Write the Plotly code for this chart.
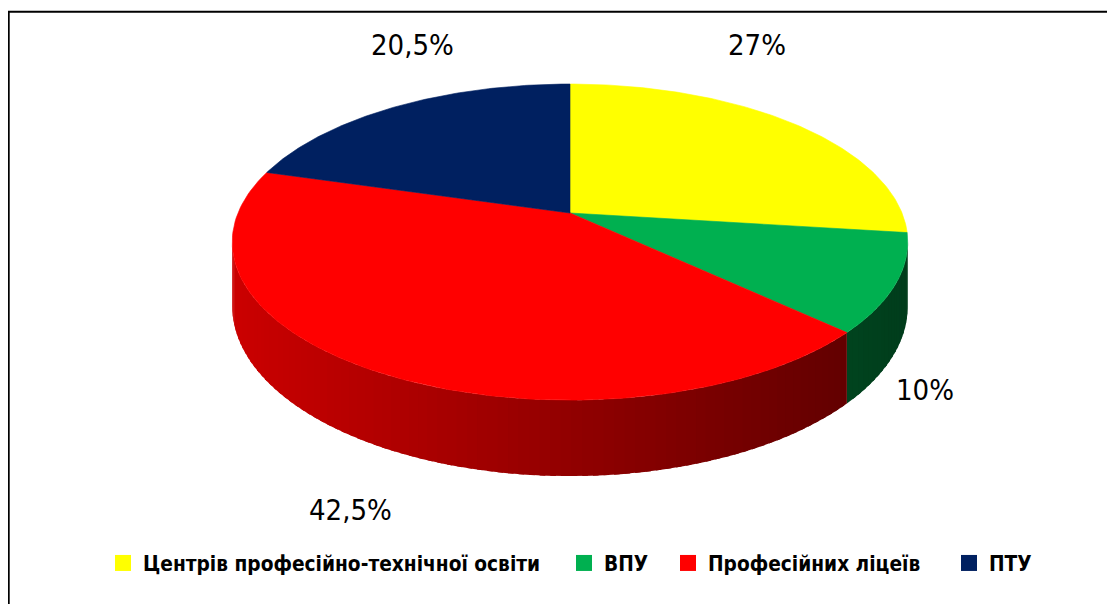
import numpy as np
import plotly.graph_objects as go

# ---- data ----
categories = ["Центрів професійно-технічної освіти", "ВПУ", "Професійних ліцеїв", "ПТУ"]
values = [27, 10, 42.5, 20.5]
value_labels = ["27%", "10%", "42,5%", "20,5%"]

# ---- style ----
colors = ["#ffff00", "#00b050", "#ff0000", "#002060"]
label_pos = [(757, 45), (925, 390), (350, 510), (412, 45)]   # page pixel positions
legend_text_x = [143, 604, 708, 989]                          # page pixel positions
legend_y = 563

# the browser body has an 8px margin: figure covers page pixels 8..1115 x 8..604
OFF = 8
PW, PH = 1115, 604
W, H = PW - OFF, PH - OFF

cx, cy = 570.0, 213.0     # pie centre (page pixels)
A, B = 332.0, 152.7        # horizontal / vertical radius scale
K = 0.184                  # perspective factor
C = 62.0                   # thickness scale

FONT = "Liberation Sans Narrow, Arial Narrow, DejaVu Sans Condensed, sans-serif"


def proj(theta_deg, r=1.0):
    t = np.radians(theta_deg)
    u, v = r * np.cos(t), r * np.sin(t)
    w = 1 + K * v
    return cx + A * u / w, cy - B * v / w, C / w


def hex_rgb(h):
    h = h.lstrip("#")
    return [int(h[i:i + 2], 16) for i in (0, 2, 4)]


def shade(hexcol, f):
    r, g, b = hex_rgb(hexcol)
    return "rgb(%d,%d,%d)" % (r * f, g * f, b * f)


fig = go.Figure()

# slice angles: start at 12 o'clock, go clockwise
total = sum(values)
starts, ends = [], []
a = 90.0
for v in values:
    starts.append(a)
    a -= 360.0 * v / total
    ends.append(a)

sil = np.degrees(np.arcsin(-K))  # right silhouette (~ -10.6)
left_sil = -180 - sil            # left silhouette (~ -169.4)

# ---- side walls (front half only) ----
for i, col in enumerate(colors):
    lo, hi = ends[i], starts[i]
    for shift in (0, -360, 360):
        l2, h2 = lo + shift, hi + shift
        a0, a1 = max(l2, left_sil), min(h2, sil)
        if a1 > a0:
            n = max(2, int((a1 - a0) / 1.5))
            edges = np.linspace(a0, a1, n + 1)
            for j in range(n):
                t0 = edges[j]
                t1 = min(edges[j + 1] + 0.8, a1)
                ts = np.linspace(t0, t1, 5)
                xs_t, ys_t, ds = proj(ts)
                xs = list(xs_t) + list(xs_t[::-1])
                ys = list(ys_t) + list((ys_t + ds)[::-1])
                xm = proj((edges[j] + edges[j + 1]) / 2)[0]
                f = 0.80 - 0.00067 * (xm - 230)
                f = min(max(f, 0.3), 0.85)
                c = shade(col, f)
                fig.add_trace(go.Scatter(
                    x=xs, y=ys, fill="toself", fillcolor=c, mode="lines",
                    line=dict(color=c, width=0), hoverinfo="skip", showlegend=False))

# ---- top faces ----
for i, col in enumerate(colors):
    ts = np.linspace(starts[i], ends[i], 120)
    xs, ys, _ = proj(ts)
    xs = [cx] + list(xs) + [cx]
    ys = [cy] + list(ys) + [cy]
    fig.add_trace(go.Scatter(
        x=xs, y=ys, fill="toself", fillcolor=col, mode="lines",
        line=dict(color=col, width=0.6), hoverinfo="skip", showlegend=False))

# ---- legend entries (one small legend per category) ----
legend_layouts = {}
for i, cat in enumerate(categories):
    lname = "legend" if i == 0 else "legend%d" % (i + 1)
    fig.add_trace(go.Scatter(
        x=[None], y=[None], mode="markers", name=cat, legend=lname,
        marker=dict(symbol="square", size=18, color=colors[i]),
        hoverinfo="skip", showlegend=True))
    legend_layouts[lname] = dict(
        orientation="h", x=(legend_text_x[i] - 40 - OFF) / W, xanchor="left",
        y=(PH - legend_y) / H, yanchor="middle",
        font=dict(family=FONT, size=20.7, color="#000000", weight="bold"),
        itemsizing="trace", bgcolor="rgba(0,0,0,0)", borderwidth=0)

# ---- value labels ----
for (lx, ly), txt in zip(label_pos, value_labels):
    fig.add_annotation(x=lx, y=ly, xref="x", yref="y", text=txt, showarrow=False,
                       font=dict(family=FONT, size=29, color="#000000"),
                       xanchor="center", yanchor="middle")

# ---- outer frame ----
fig.add_shape(type="rect", xref="x", yref="y", x0=8.7, y0=11.8, x1=1130, y1=620,
              line=dict(color="black", width=2), fillcolor="rgba(0,0,0,0)", layer="above")

fig.update_layout(
    width=W, height=H,
    margin=dict(l=0, r=0, t=0, b=0),
    paper_bgcolor="white", plot_bgcolor="white",
    xaxis=dict(range=[OFF, PW], visible=False, fixedrange=True),
    yaxis=dict(range=[PH, OFF], visible=False, fixedrange=True),
    showlegend=True,
    **legend_layouts,
)

fig.write_html("out.html")
